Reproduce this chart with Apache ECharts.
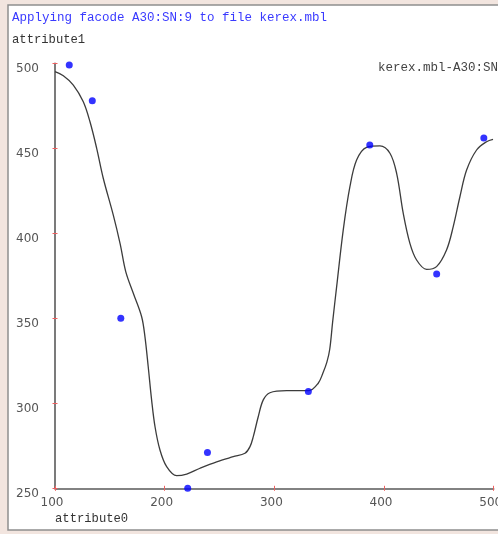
<!DOCTYPE html>
<html>
<head>
<meta charset="utf-8">
<title>kerex.mbl</title>
<script src="https://cdn.jsdelivr.net/npm/echarts@6/dist/echarts.min.js"></script>
<style>
  html, body { margin: 0; padding: 0; background: #f2e5df; }
  #chart { width: 498px; height: 534px; }
</style>
</head>
<body>
<div id="chart"></div>
<script>
// Measured samples (attribute0 -> attribute1)
const sampleX = [113, 134, 160, 221, 239, 331, 387, 448, 491];
const sampleY = [499, 478, 350, 250, 271, 307, 452, 376, 456];

// Fitted curve, traced at points along its length
const curveX = [100, 107.6, 116.7, 125.8, 131.9, 138.0, 144.0, 153.1, 159.5, 164.5,
  171.4, 179.0, 182.0, 185.0, 188.1, 191.2, 195.7, 201.8, 210.9, 220.1,
  232.2, 247.4, 262.5, 273.2, 277.8, 280.8, 285.3, 289.9, 296.0, 311.2,
  331.5, 340.0, 344.3, 347.9, 350.5, 353.2, 356.8, 362.8, 368.9, 375.0,
  384.1, 396.3, 405.4, 411.5, 417.5, 423.6, 429.7, 438.8, 447.9, 457.0,
  463.1, 469.2, 475.3, 484.4, 493.5, 499.4];
const curveY = [495.1, 492.7, 487.2, 477.4, 465.6, 450.0, 432.4, 410.8, 393.5, 377.5,
  364.7, 350.9, 339.2, 321.5, 301.9, 286.2, 272.5, 262.7, 257.4, 258.4,
  261.8, 265.6, 268.6, 270.6, 274.5, 280.4, 292.1, 302.0, 306.2, 307.4,
  307.4, 311.8, 317.8, 324.2, 331.8, 348.2, 368.6, 401.9, 427.4, 443.1,
  450.6, 451.4, 447.1, 435.3, 411.8, 394.1, 384.3, 378.8, 380.4, 390.2,
  403.9, 421.5, 437.2, 449.0, 453.9, 455.3];

// Axis ranges and tick values
const xTicks = [100, 200, 300, 400, 500];
const yTicks = [250, 300, 350, 400, 450, 500];

const titleText = 'Applying facode A30:SN:9 to file kerex.mbl';
const seriesName = 'kerex.mbl-A30:SN';
const xName = 'attribute0';
const yName = 'attribute1';

const mono = '"Liberation Mono", "DejaVu Sans Mono", monospace';
const sans = '"DejaVu Sans", sans-serif';

const chart = echarts.init(document.getElementById('chart'), null, { renderer: 'canvas' });

const tickColor = '#f06060';
const axisColor = '#5a5a5a';

const baseX = {
  type: 'value',
  min: xTicks[0],
  max: xTicks[xTicks.length - 1],
  interval: 100,
  splitLine: { show: false }
};
const baseY = {
  type: 'value',
  min: yTicks[0],
  max: yTicks[yTicks.length - 1],
  interval: 50,
  splitLine: { show: false }
};

chart.setOption({
  backgroundColor: 'transparent',
  animation: false,
  graphic: [
    {
      type: 'rect', z: -10, silent: true,
      shape: { x: 8, y: 5, width: 500, height: 525 },
      style: { fill: '#ffffff', stroke: '#8e8e8e', lineWidth: 1.5 }
    },
    {
      type: 'text', left: 12, top: 11,
      style: { text: titleText, fill: '#3a3aff', font: '12.5px ' + mono }
    },
    {
      type: 'text', left: 12, top: 34,
      style: { text: yName, fill: '#333333', font: '12.2px ' + mono }
    },
    {
      type: 'text', left: 378, top: 61,
      style: { text: seriesName, fill: '#444444', font: '12.5px ' + mono }
    },
    {
      type: 'text', left: 55, top: 513,
      style: { text: xName, fill: '#333333', font: '12.2px ' + mono }
    }
  ],
  grid: {
    left: 55, right: 4.3, top: 63.3, bottom: 45.7,
    containLabel: false, outerBoundsMode: 'none'
  },
  xAxis: [
    Object.assign({}, baseX, {
      axisLine: { show: true, lineStyle: { color: axisColor, width: 1.6 } },
      axisTick: { show: true, length: 2.5, lineStyle: { color: tickColor, width: 1 } },
      axisLabel: {
        color: '#555555', fontFamily: sans, fontSize: 12, margin: 9,
        padding: [0, 6, 0, 0]
      }
    }),
    Object.assign({}, baseX, {
      position: 'bottom',
      axisLine: { show: false },
      axisTick: { show: true, inside: true, length: 2.5, lineStyle: { color: tickColor, width: 1 } },
      axisLabel: { show: false }
    })
  ],
  yAxis: [
    Object.assign({}, baseY, {
      axisLine: { show: true, lineStyle: { color: axisColor, width: 1.6 } },
      axisTick: { show: true, length: 2.5, lineStyle: { color: tickColor, width: 1 } },
      axisLabel: {
        color: '#555555', fontFamily: sans, fontSize: 12, margin: 16,
        verticalAlign: 'top'
      }
    }),
    Object.assign({}, baseY, {
      position: 'left',
      axisLine: { show: false },
      axisTick: { show: true, inside: true, length: 2.5, lineStyle: { color: tickColor, width: 1 } },
      axisLabel: { show: false }
    })
  ],
  series: [
    {
      name: seriesName,
      type: 'line',
      data: curveX.map((x, i) => [x, curveY[i]]),
      smooth: 0.35,
      showSymbol: false,
      clip: false,
      lineStyle: { color: '#3c3c3c', width: 1.3 },
      z: 2
    },
    {
      name: 'samples',
      type: 'scatter',
      data: sampleX.map((x, i) => [x, sampleY[i]]),
      symbol: 'circle',
      symbolSize: 7,
      clip: false,
      itemStyle: { color: '#0000ff' },
      z: 3
    }
  ]
});
</script>
</body>
</html>
